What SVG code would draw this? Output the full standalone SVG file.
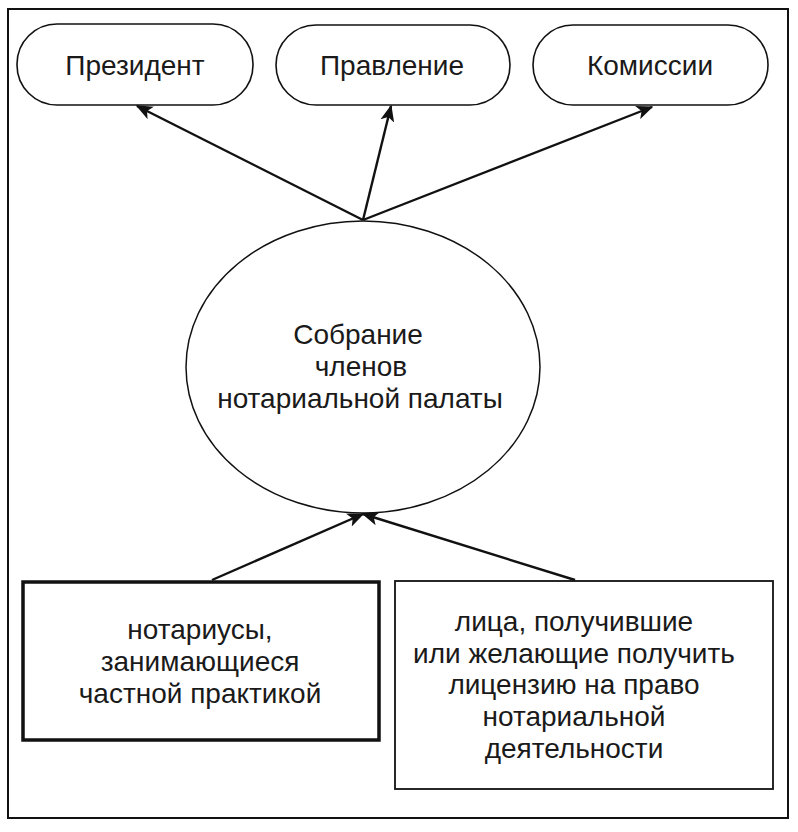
<svg xmlns="http://www.w3.org/2000/svg" width="798" height="832" viewBox="0 0 798 832">
<style>
text{font-family:"Liberation Sans",Arial,sans-serif;font-size:28px;fill:#1a1a1a;text-anchor:middle}
.pill{fill:#fff;stroke:#111;stroke-width:1.6}
.edge{stroke:#111;stroke-width:2.4;fill:none;marker-end:url(#ah)}
</style>
<defs>
<marker id="ah" viewBox="0 0 12 10" refX="11" refY="5" markerWidth="7" markerHeight="6" orient="auto" markerUnits="strokeWidth">
<path d="M0,0 L12,5 L0,10 L3,5 z" fill="#111"/>
</marker>
</defs>
<rect x="0" y="0" width="798" height="832" fill="#fff"/>
<rect id="frame" x="8" y="9" width="780" height="809" fill="none" stroke="#111" stroke-width="2"/>
<g id="president">
<rect class="pill" x="17" y="24" width="236" height="81" rx="40" ry="40"/>
<text x="135" y="75">Президент</text>
</g>
<g id="pravlenie">
<rect class="pill" x="276" y="25" width="234" height="80" rx="40" ry="40"/>
<text x="392" y="75">Правление</text>
</g>
<g id="komissii">
<rect class="pill" x="533" y="25" width="235" height="80" rx="40" ry="40"/>
<text x="650" y="75">Комиссии</text>
</g>
<g id="sobranie">
<ellipse cx="363" cy="367" rx="177" ry="146" fill="#fff" stroke="#111" stroke-width="1.5"/>
<text x="358" y="344">Собрание</text>
<text x="361" y="376">членов</text>
<text x="360" y="408">нотариальной палаты</text>
</g>
<g id="notarius">
<rect x="23" y="582" width="356" height="158" fill="#fff" stroke="#111" stroke-width="3.5"/>
<text x="200" y="639">нотариусы,</text>
<text x="200" y="671">занимающиеся</text>
<text x="200" y="703">частной практикой</text>
</g>
<g id="lica">
<rect x="395" y="581" width="378" height="208" fill="#fff" stroke="#111" stroke-width="1.8"/>
<text x="574" y="631">лица, получившие</text>
<text x="574" y="663">или желающие получить</text>
<text x="574" y="694">лицензию на право</text>
<text x="574" y="726">нотариальной</text>
<text x="574" y="758">деятельности</text>
</g>
<g id="connectors">
<line class="edge" x1="363" y1="220" x2="137" y2="106"/>
<line class="edge" x1="363" y1="220" x2="391" y2="106"/>
<line class="edge" x1="363" y1="220" x2="652" y2="107"/>
<line class="edge" x1="212" y1="580" x2="363" y2="514"/>
<line class="edge" x1="575" y1="580" x2="363" y2="514"/>
</g>
</svg>
